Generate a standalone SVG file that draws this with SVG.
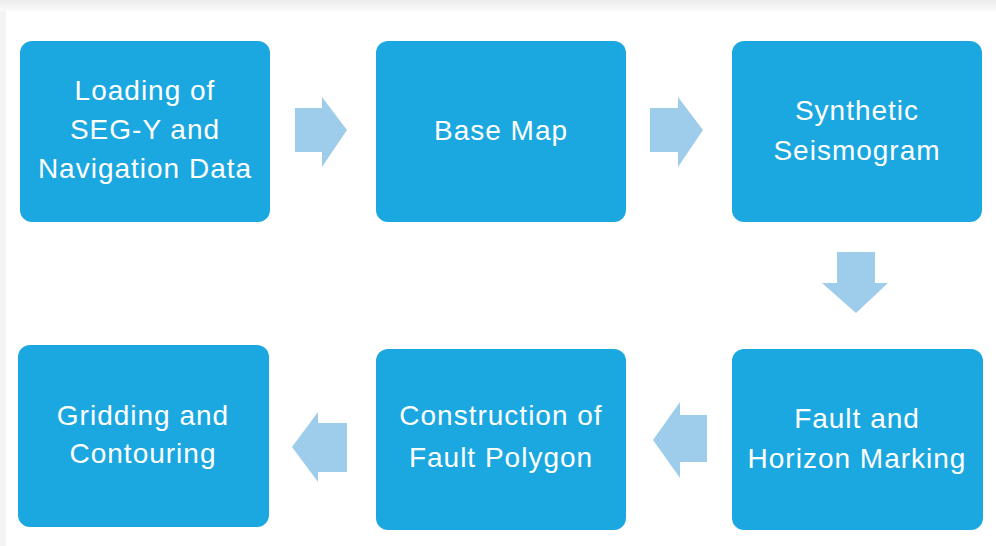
<svg xmlns="http://www.w3.org/2000/svg" width="996" height="546" viewBox="0 0 996 546">
<defs>
<linearGradient id="topg" x1="0" y1="0" x2="0" y2="1">
<stop offset="0" stop-color="#ececec"/><stop offset="1" stop-color="#fafafa"/>
</linearGradient>
</defs>
<style>
.box{fill:#1ba8e1;}
.t{font-family:"Liberation Sans",Arial,sans-serif;font-size:28px;fill:#ffffff;text-anchor:middle;letter-spacing:1px;}
.arr{fill:#9ecdeb;}
</style>
<rect x="0" y="0" width="996" height="546" fill="#ffffff"/>
<rect x="0" y="0" width="996" height="11" fill="url(#topg)"/>
<rect x="0" y="11" width="6" height="535" fill="#f4f4f4"/>
<g id="connectors">
<polygon class="arr" points="295,108 322,108 322,97 347,130 322,167 322,152 295,152"/>
<polygon class="arr" points="650,108 678,108 678,97 703,130 678,167 678,152 650,152"/>
<polygon class="arr" points="837,252 875,252 875,283 888,283 856,313 822,283 837,283"/>
<polygon class="arr" points="707,415 680,415 680,402 653,440 680,478 680,462 707,462"/>
<polygon class="arr" points="347,423 318,423 318,412 292,447 318,482 318,472 347,472"/>
</g>
<g id="n1"><rect class="box" x="20" y="41" width="250" height="181" rx="12"/>
<text class="t" x="145" y="100">Loading of</text><text class="t" x="145" y="139">SEG-Y and</text><text class="t" x="145" y="178">Navigation Data</text></g>
<g id="n2"><rect class="box" x="376" y="41" width="250" height="181" rx="12"/>
<text class="t" x="501" y="140">Base Map</text></g>
<g id="n3"><rect class="box" x="732" y="41" width="250" height="181" rx="12"/>
<text class="t" x="857" y="120">Synthetic</text><text class="t" x="857" y="160">Seismogram</text></g>
<g id="n6"><rect class="box" x="732" y="349" width="251" height="181" rx="12"/>
<text class="t" x="857" y="428">Fault and</text><text class="t" x="857" y="468">Horizon Marking</text></g>
<g id="n5"><rect class="box" x="376" y="349" width="250" height="181" rx="12"/>
<text class="t" x="501" y="425">Construction of</text><text class="t" x="501" y="467">Fault Polygon</text></g>
<g id="n4"><rect class="box" x="18" y="345" width="251" height="182" rx="12"/>
<text class="t" x="143" y="425">Gridding and</text><text class="t" x="143" y="463">Contouring</text></g>
</svg>
